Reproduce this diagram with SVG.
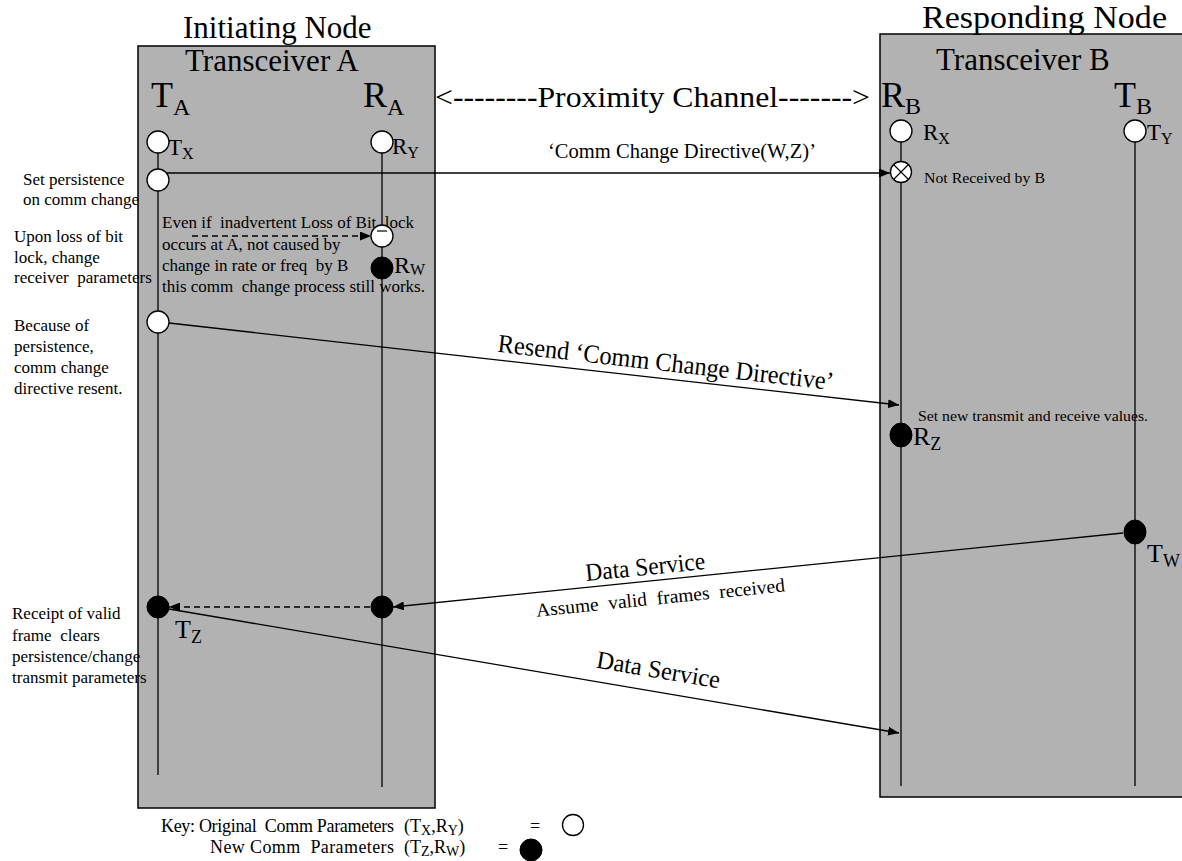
<svg xmlns="http://www.w3.org/2000/svg" width="1182" height="861" viewBox="0 0 1182 861">
<defs>
<marker id="ah" markerUnits="userSpaceOnUse" markerWidth="11" markerHeight="9" viewBox="0 0 11 9" refX="11" refY="4.5" orient="auto"><path d="M0,0 L11,4.5 L0,9 z" fill="#000"/></marker>
</defs>
<style>
text { font-family: "Liberation Serif", "Times New Roman", serif; fill: #000; }
.box { fill: #b2b2b2; stroke: #000; stroke-width: 1.5; }
.life { stroke: #000; stroke-width: 1.3; fill: none; }
.msg { stroke: #000; stroke-width: 1.3; fill: none; marker-end: url(#ah); }
.dash { stroke-dasharray: 6 4; }
.open { fill: #fff; stroke: #000; stroke-width: 1.3; }
.filled { fill: #000; stroke: #000; stroke-width: 1; }
.title { font-size: 31px; }
.big { font-size: 36px; }
.bigsub { font-size: 24px; }
.lbl { font-size: 23px; }
.lsub { font-size: 16px; }
.lbl2 { font-size: 26px; }
.lsub2 { font-size: 18px; }
.note { font-size: 17px; }
.small { font-size: 15px; }
.key { font-size: 18px; }
.ksub { font-size: 14px; }
</style>

<g id="nodeA">
<rect class="box" x="138" y="46" width="297" height="762"/>
<text class="title" x="183" y="38">Initiating Node</text>
<text class="title" x="185" y="71">Transceiver A</text>
<text class="big" x="151" y="107">T<tspan class="bigsub" dy="8">A</tspan></text>
<text class="big" x="363" y="107">R<tspan class="bigsub" dy="8">A</tspan></text>
<line class="life" x1="158" y1="142" x2="158" y2="775"/>
<line class="life" x1="382" y1="142" x2="382" y2="787"/>
<g class="note">
<text x="162" y="228" xml:space="preserve">Even if  inadvertent Loss of Bit  lock</text>
<text x="162" y="250">occurs at A, not caused by</text>
<text x="162" y="271" xml:space="preserve">change in rate or freq  by B</text>
<text x="162" y="292" xml:space="preserve">this comm  change process still works.</text>
</g>
<text class="lbl" x="168" y="155">T<tspan class="lsub" dy="4">X</tspan></text>
<text class="lbl" x="392" y="154">R<tspan class="lsub" dy="4">Y</tspan></text>
<text x="394" y="273" font-size="24">R<tspan class="lsub" dy="2">W</tspan></text>
<text class="lbl2" x="175" y="638">T<tspan class="lsub2" dy="5">Z</tspan></text>
</g>

<g id="nodeB">
<rect class="box" x="880" y="34" width="310" height="763"/>
<text class="title" x="922" y="28" textLength="245" lengthAdjust="spacingAndGlyphs">Responding Node</text>
<text class="title" x="936" y="70">Transceiver B</text>
<text class="big" x="881" y="107">R<tspan class="bigsub" dy="7">B</tspan></text>
<text class="big" x="1114" y="107">T<tspan class="bigsub" dy="7">B</tspan></text>
<line class="life" x1="901" y1="131" x2="901" y2="786"/>
<line class="life" x1="1135" y1="131" x2="1135" y2="786"/>
<text class="lbl" x="923" y="140">R<tspan class="lsub" dy="4">X</tspan></text>
<text class="lbl" x="1147" y="140">T<tspan class="lsub" dy="4">Y</tspan></text>
<text class="small" x="924" y="183" textLength="121" lengthAdjust="spacingAndGlyphs">Not Received by B</text>
<text class="small" x="918" y="421" textLength="230" lengthAdjust="spacingAndGlyphs">Set new transmit and receive values.</text>
<text class="lbl2" x="913" y="445">R<tspan class="lsub2" dy="5">Z</tspan></text>
<text class="lbl2" x="1147" y="562">T<tspan class="lsub2" dy="5">W</tspan></text>
</g>

<g id="channel">
<text x="435" y="107" font-size="29" textLength="435" lengthAdjust="spacingAndGlyphs">&lt;--------Proximity Channel-------&gt;</text>
</g>

<g id="connectors">
<line class="msg" x1="167" y1="173" x2="890" y2="173"/>
<line class="msg dash" x1="192" y1="236" x2="371" y2="236"/>
<line class="msg" x1="169" y1="323" x2="899" y2="405"/>
<line class="msg" x1="1123" y1="533" x2="393" y2="607"/>
<line class="msg dash" x1="370" y1="607" x2="169" y2="607"/>
<line class="msg" x1="169" y1="609" x2="899" y2="733"/>
<text x="682" y="158" font-size="21" text-anchor="middle" textLength="268" lengthAdjust="spacingAndGlyphs">‘Comm Change Directive(W,Z)’</text>
<text x="665" y="371" font-size="26" text-anchor="middle" textLength="338" lengthAdjust="spacingAndGlyphs" transform="rotate(6.5 665 371)">Resend ‘Comm Change Directive’</text>
<text x="646" y="575" font-size="25" text-anchor="middle" textLength="120" lengthAdjust="spacingAndGlyphs" transform="rotate(-5.8 646 575)">Data Service</text>
<text x="661" y="604" font-size="19" text-anchor="middle" textLength="250" lengthAdjust="spacingAndGlyphs" transform="rotate(-5.8 661 604)" xml:space="preserve">Assume  valid  frames  received</text>
<text x="657" y="678" font-size="25" text-anchor="middle" textLength="125" lengthAdjust="spacingAndGlyphs" transform="rotate(9.6 657 678)">Data Service</text>
</g>

<g id="events">
<circle class="open" cx="158" cy="142" r="11"/>
<circle class="open" cx="382" cy="142" r="11"/>
<circle class="open" cx="901" cy="131" r="11"/>
<circle class="open" cx="1135" cy="131" r="11"/>
<circle class="open" cx="158" cy="180" r="11"/>
<g id="notReceived">
<circle class="open" cx="901" cy="172" r="10.5"/>
<path d="M893.5,164.5 L908.5,179.5 M908.5,164.5 L893.5,179.5" stroke="#000" stroke-width="1.2"/>
</g>
<circle class="open" cx="382" cy="236" r="11"/>
<line x1="377" y1="231" x2="387" y2="231" stroke="#000" stroke-width="1.2"/>
<circle class="filled" cx="382" cy="268" r="11"/>
<circle class="open" cx="158" cy="322" r="11"/>
<ellipse class="filled" cx="901" cy="435" rx="11" ry="12"/>
<ellipse class="filled" cx="1135" cy="532" rx="11" ry="12"/>
<circle class="filled" cx="382" cy="607" r="11"/>
<circle class="filled" cx="158" cy="607" r="11"/>
</g>

<g id="annotations" class="note">
<text x="23" y="185">Set persistence</text>
<text x="23" y="205">on comm change</text>
<text x="14" y="242">Upon loss of bit</text>
<text x="14" y="263">lock, change</text>
<text x="14" y="283" xml:space="preserve">receiver  parameters</text>
<text x="14" y="331">Because of</text>
<text x="14" y="352">persistence,</text>
<text x="14" y="373">comm change</text>
<text x="14" y="394">directive resent.</text>
<text x="12" y="619">Receipt of valid</text>
<text x="12" y="641" xml:space="preserve">frame  clears</text>
<text x="12" y="662">persistence/change</text>
<text x="12" y="683">transmit parameters</text>
</g>

<g id="key">
<text class="key" x="161" y="832" textLength="233" xml:space="preserve">Key: Original  Comm Parameters</text>
<text class="key" x="404" y="832" font-size="20">(T<tspan class="ksub" dy="3">X</tspan><tspan dy="-3">,R</tspan><tspan class="ksub" dy="3">Y</tspan><tspan dy="-3">)</tspan></text>
<text class="key" x="530" y="832">=</text>
<circle class="open" cx="573" cy="825" r="10.5"/>
<text class="key" x="210" y="853" textLength="184" xml:space="preserve">New Comm  Parameters</text>
<text class="key" x="404" y="853" font-size="20">(T<tspan class="ksub" dy="3">Z</tspan><tspan dy="-3">,R</tspan><tspan class="ksub" dy="3">W</tspan><tspan dy="-3">)</tspan></text>
<text class="key" x="498" y="853">=</text>
<circle class="filled" cx="531" cy="850" r="11"/>
</g>
</svg>
